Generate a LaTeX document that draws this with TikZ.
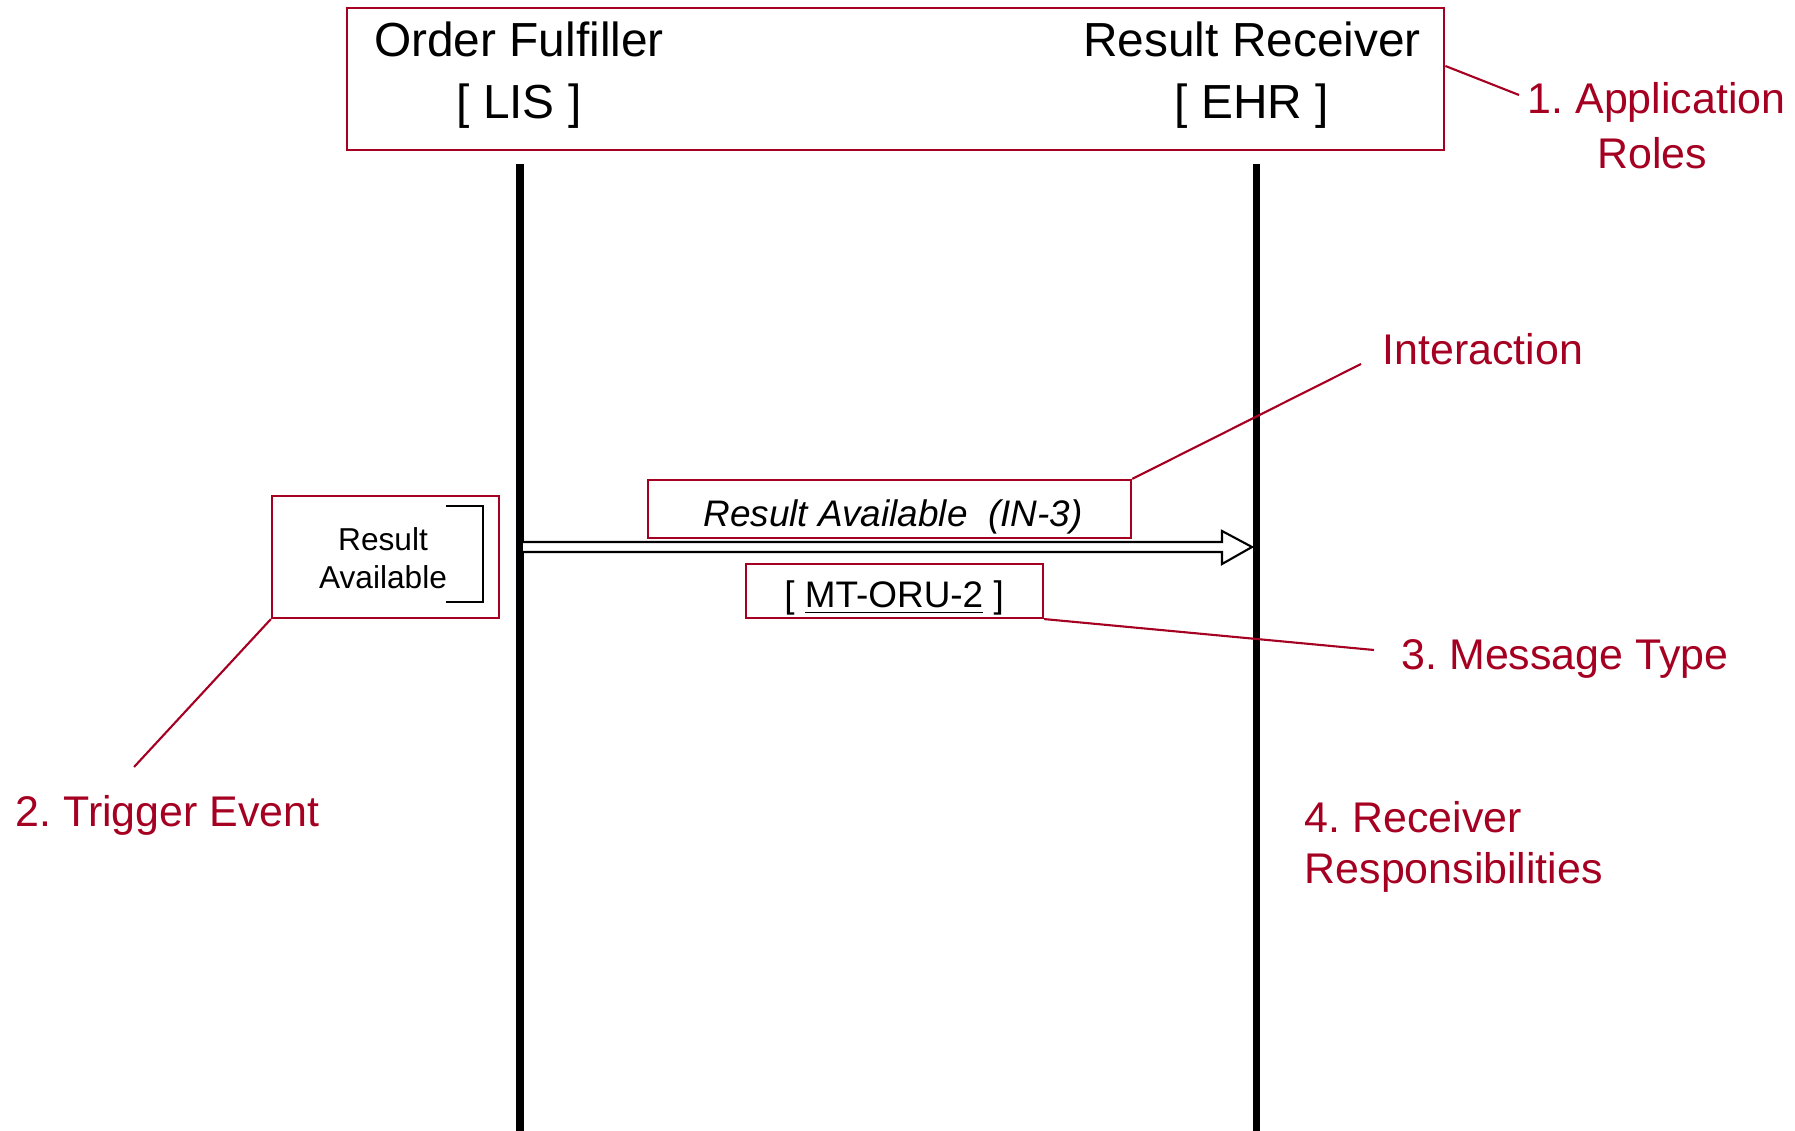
\documentclass[tikz,border=0pt]{standalone}
\usepackage{fontspec}
\setmainfont{Liberation Sans}
\usepackage{xcolor}
\usepackage{tikz}
\usetikzlibrary{calc}
\definecolor{labelred}{RGB}{165,0,33}
\tikzset{
  rolebox/.style={rectangle, draw=labelred, line width=0.6pt, inner sep=0pt},
  roletext/.style={inner sep=0pt, anchor=base, font=\fontsize{13.6}{16}\selectfont},
  msgbox/.style={rectangle, draw=labelred, line width=0.6pt, inner sep=0pt},
  msgtext/.style={inner sep=0pt, anchor=base, font=\fontsize{10.5}{13}\selectfont},
  evttext/.style={inner sep=0pt, anchor=base, font=\fontsize{9}{11}\selectfont},
  callout/.style={inner sep=0pt, anchor=base west, text=labelred,
                  font=\fontsize{12.2}{15}\selectfont},
  leader/.style={draw=labelred, line width=0.6pt},
  lifeline/.style={line width=2pt, black},
  hollow/.style={draw=black, line width=0.6pt, fill=white, line join=miter}
}
\frenchspacing

\begin{document}
\begin{tikzpicture}[x=0.01cm, y=-0.01cm]
  \useasboundingbox (0,0) rectangle (1795,1131);

  % application roles
  \node[rolebox, minimum width=10.97cm, minimum height=1.42cm]
    (roles) at (895.5,79) {};
  \node[roletext] (of)  at (519,57)  {Order Fulfiller};
  \node[roletext] (lis) at (519,119) {[ LIS ]};
  \node[roletext] (rr)  at (1252,57)  {Result Receiver};
  \node[roletext] (ehr) at (1252,119) {[ EHR ]};

  % lifelines
  \coordinate (lisTop) at (520,164);
  \coordinate (lisEnd) at (520,1131);
  \coordinate (ehrTop) at (1256,164);
  \coordinate (ehrEnd) at (1256,1131);
  \draw[lifeline] (lisTop) -- (lisEnd);
  \draw[lifeline] (ehrTop) -- (ehrEnd);

  % trigger event
  \node[msgbox, minimum width=2.27cm, minimum height=1.22cm]
    (trig) at (385.5,557) {};
  \node[evttext] (res)   at (383,550) {Result};
  \node[evttext] (avail) at (383,588) {Available};
  \draw[line width=0.6pt] (446,506) -| (483,602) -- (446,602);

  % interaction
  \node[msgbox, minimum width=4.83cm, minimum height=0.58cm]
    (ia) at (889.5,509) {};
  \node[msgtext] (iatext) at (893,527)
    {\itshape Result Available\ \ (IN-3)};

  % message arrow
  \coordinate (msgStart) at (523,547);
  \coordinate (msgEnd) at (1252,547);
  \draw[hollow] ($(msgStart)+(0,-5)$) -- ($(msgEnd)+(-30,-5)$) -- ++(0,-11)
    -- (msgEnd) -- ($(msgEnd)+(-30,17)$) -- ++(0,-12)
    -- ($(msgStart)+(0,5)$);

  % message type
  \node[msgbox, minimum width=2.97cm, minimum height=0.54cm]
    (mt) at (894.5,591) {};
  \node[msgtext] (mttext) at (894,607) {[ \underline{MT-ORU-2} ]};

  % callouts
  \node[callout] (applbl) at (1527,114) {1. Application};
  \node[callout, anchor=base] (roleslbl) at (1652,169) {Roles};
  \node[callout] (intlbl) at (1382,365) {Interaction};
  \node[callout] (trglbl) at (15,826) {2. Trigger Event};
  \node[callout] (msglbl) at (1401,669) {3. Message Type};
  \node[callout] (rcvlbl) at (1304,832) {4. Receiver};
  \node[callout] (resplbl) at (1304,883) {Responsibilities};

  % leader lines
  \draw[leader] ([yshift=0.13cm]roles.east)
    -- ([xshift=-0.08cm, yshift=0.19cm]applbl.base west);
  \draw[leader] (ia.north east)
    -- ([xshift=-0.21cm, yshift=0.01cm]intlbl.base west);
  \draw[leader] (mt.south east)
    -- ([xshift=-0.27cm, yshift=0.19cm]msglbl.base west);
  \draw[leader] (trig.south west)
    -- ([xshift=1.19cm, yshift=0.59cm]trglbl.base west);

\end{tikzpicture}
\end{document}
